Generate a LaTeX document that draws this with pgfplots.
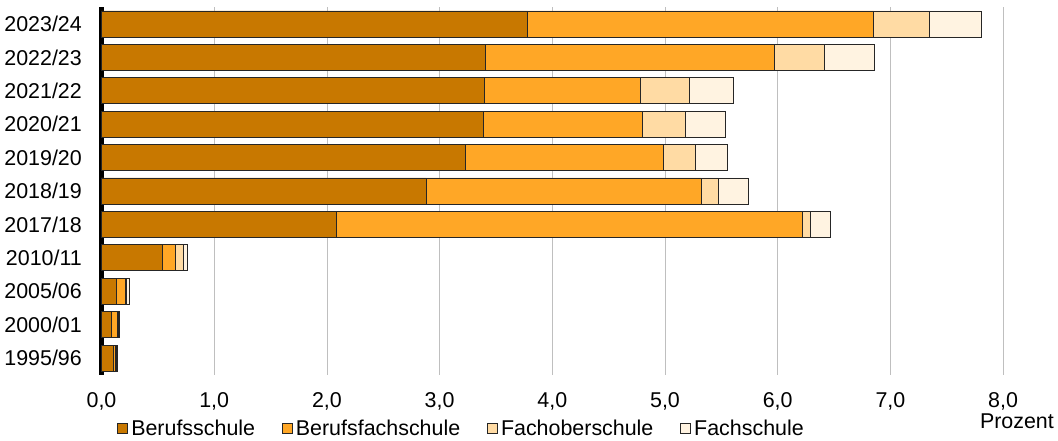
\documentclass[border=0pt]{standalone}
\usepackage{pgfplots}
\pgfplotsset{compat=1.18}
\usepackage{pgfplotstable}
\usepackage{fontspec}
\setmainfont{Liberation Sans}
\definecolor{cBs}{HTML}{C87800}
\definecolor{cBfs}{HTML}{FFA726}
\definecolor{cFos}{HTML}{FFDBA4}
\definecolor{cFs}{HTML}{FFF3E1}
\pgfplotstableread{
y bs bfs fos fs
0 0.11 0.015 0.005 0.008
1 0.09 0.05 0.01 0.01
2 0.135 0.075 0.015 0.02
3 0.54 0.12 0.07 0.03
4 2.08 4.14 0.07 0.18
5 2.88 2.44 0.15 0.27
6 3.23 1.76 0.28 0.28
7 3.39 1.41 0.38 0.36
8 3.40 1.38 0.44 0.39
9 3.41 2.56 0.44 0.45
10 3.78 3.07 0.50 0.46
}\data
\begin{document}
\begin{tikzpicture}
\useasboundingbox (-101.5bp,-66.3bp) rectangle (956.5bp,374.7bp);
\begin{axis}[
  at={(0,0)}, anchor=south west,
  scale only axis, width=946.7bp, height=367.4bp,
  clip=false,
  xbar stacked, bar width=26bp,
  xmin=0, xmax=8.4, ymin=-0.5, ymax=10.5,
  xtick={0,1,...,8}, ytick={0,...,10},
  yticklabels={1995/96,2000/01,2005/06,2010/11,2017/18,2018/19,2019/20,2020/21,2021/22,2022/23,2023/24},
  axis line style={draw=none}, major tick length=0pt,
  xmajorgrids, grid style={color=black!25, line width=0.8bp},
  tick label style={font=\fontsize{21.5}{25}\selectfont},
  /pgf/number format/assume math mode=true,
  xticklabel style={anchor=base, yshift=-33bp,
    /pgf/number format/fixed, /pgf/number format/fixed zerofill,
    /pgf/number format/precision=1, /pgf/number format/use comma},
  yticklabel style={anchor=east, inner sep=0pt, xshift=-19.5bp},
  xlabel={Prozent},
  xlabel style={at={(axis description cs:0.967,0)}, anchor=base, yshift=-54bp, inner sep=0pt, font=\fontsize{21.5}{25}\selectfont},
  legend style={at={(rel axis cs:0.013,0)}, anchor=west, yshift=-54bp, draw=none, fill=none,
    legend columns=-1, font=\fontsize{21.5}{25}\selectfont,
    nodes={inner sep=1.5bp},
    /tikz/every odd column/.append style={column sep=2bp},
    /tikz/every even column/.append style={column sep=25bp}},
  legend image code/.code={\draw[#1, draw=black!85, line width=0.8bp] (0bp,-5bp) rectangle (10bp,5bp);},
]
\addplot[fill=cBs, draw=black!85, line width=0.8bp] table[x=bs,y=y]{\data};
\addplot[fill=cBfs, draw=black!85, line width=0.8bp] table[x=bfs,y=y]{\data};
\addplot[fill=cFos, draw=black!85, line width=0.8bp] table[x=fos,y=y]{\data};
\addplot[fill=cFs, draw=black!85, line width=0.8bp] table[x=fs,y=y]{\data};
\legend{Berufsschule,Berufsfachschule,Fachoberschule,Fachschule}
\draw[line width=5bp] (axis cs:0,-0.5) -- (axis cs:0,10.5);
\end{axis}
\end{tikzpicture}
\end{document}
